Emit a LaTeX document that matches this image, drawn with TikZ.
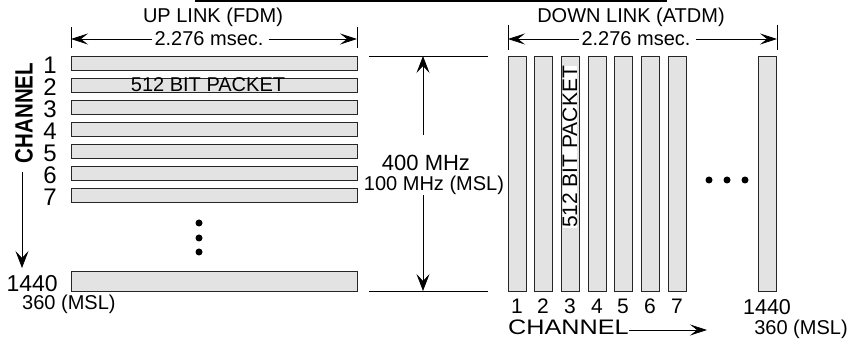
\documentclass[tikz,border=0pt]{standalone}
\usepackage{fontspec}
\setmainfont{Liberation Sans}
\usetikzlibrary{arrows.meta}
\newcommand{\fs}[1]{\fontsize{#1}{#1}\selectfont}
\begin{document}
\begin{tikzpicture}[x=1pt,y=-1pt,
  bar/.style={draw=black!85, line width=0.9pt, fill=black!11, inner sep=0pt},
  txt/.style={inner sep=0pt, font=\fs{20}},
  dim/.style={line width=0.7pt},
  arr/.style={line width=0.7pt, -{Stealth[length=17pt,width=11pt,inset=7pt]}},
  varr/.style={line width=0.7pt, -{Stealth[length=17pt,width=13pt,inset=7pt]}},
  dot/.style={circle, fill=black, inner sep=0pt, minimum size=7pt}]
\useasboundingbox (0,0) rectangle (852,347);
% top bar
\coordinate (tl) at (195,1); \coordinate (tr) at (667,1);
\draw[line width=2.5pt] (tl) -- (tr);
% titles
\node[txt] (up) at (213,17) {UP LINK (FDM)};
\node[txt] (down) at (631,17) {DOWN LINK (ATDM)};
% left dimension
\coordinate (lt1a) at (71,27); \coordinate (lt1b) at (71,48);
\coordinate (lt2a) at (357,27); \coordinate (lt2b) at (357,48);
\draw[dim] (lt1a) -- (lt1b); \draw[dim] (lt2a) -- (lt2b);
\node[txt] (ldim) at (209,39) {2.276 msec.};
\coordinate (la) at (71,39); \coordinate (lb) at (357,39);
\draw[arr] (ldim.west) ++(-2,0) -- (la);
\draw[arr] (ldim.east) ++(5,0) -- (lb);
% right dimension
\coordinate (rt1a) at (508,25); \coordinate (rt1b) at (508,50);
\coordinate (rt2a) at (777,25); \coordinate (rt2b) at (777,50);
\draw[dim] (rt1a) -- (rt1b); \draw[dim] (rt2a) -- (rt2b);
\node[txt] (rdim) at (636,39) {2.276 msec.};
\coordinate (ra) at (508,39); \coordinate (rb) at (777,39);
\draw[arr] (rdim.west) ++(-2,0) -- (ra);
\draw[arr] (rdim.east) ++(5,0) -- (rb);
% left bars
\foreach \i/\y in {1/56,2/78,3/100,4/122,5/144,6/166,7/188} {
  \node[bar, minimum width=286pt, minimum height=14pt] (u\i) at (214,\y+7) {};
  \node[inner sep=0pt, anchor=east, font=\fs{24}] (n\i) at (57,\y+9) {\i};
}
\node[bar, minimum width=286pt, minimum height=20pt] (u1440) at (214,281) {};
\node[inner sep=0pt, text depth=0pt, anchor=east, font=\fs{23}] (n1440) at (58,283) {1440};
\node[txt, anchor=west] (nmsl) at (22,304.5) {360 (MSL)};
\node[txt] (pk1) at (208,85) {512 BIT PACKET};
\node[dot] (d1) at (199,223) {};
\node[dot] (d2) at (199,238) {};
\node[dot] (d3) at (199,252) {};
% left vertical channel label
\node[inner sep=0pt, rotate=90, font=\fs{25}\bfseries] (chv) at (24,113) {\scalebox{0.82}[1]{CHANNEL}};
\coordinate (cha) at (22,172); \coordinate (chb) at (22,268);
\draw[varr] (cha) -- (chb);
% frequency dimension
\coordinate (fa) at (369,56); \coordinate (fb) at (488,56);
\coordinate (fc) at (369,291); \coordinate (fd) at (488,291);
\draw[dim] (fa) -- (fb); \draw[dim] (fc) -- (fd);
\node[inner sep=0pt, font=\fs{22}] (f400) at (426,163) {400 MHz};
\node[txt] (f100) at (434,185) {100 MHz (MSL)};
\coordinate (ft) at (423,56); \coordinate (fbot) at (423,291);
\coordinate (fs1) at (423,135); \coordinate (fs2) at (423,195);
\draw[varr] (fs1) -- (ft);
\draw[varr] (fs2) -- (fbot);
% right bars
\foreach \i/\x in {1/508,2/534,3/561,4/588,5/614,6/641,7/668} {
  \node[bar, minimum width=18pt, minimum height=235pt] (v\i) at (\x+9,173.5) {};
  \node[inner sep=0pt, text depth=0pt, font=\fs{21}] (m\i) at (\x+9,306.5) {\i};
}
\node[bar, minimum width=18pt, minimum height=235pt] (v1440) at (767,173.5) {};
\node[inner sep=0pt, text depth=0pt, font=\fs{21.5}] (m1440) at (767,306.5) {1440};
\node[txt] (rmsl) at (801,329) {360 (MSL)};
\node[inner sep=0pt, fill=white, rotate=90, font=\fs{21}] (pk2) at (570,147) {512 BIT PACKET};
\node[dot] (e1) at (709,180) {};
\node[dot] (e2) at (727,180) {};
\node[dot] (e3) at (745,180) {};
% bottom channel label
\node[inner sep=0pt, anchor=west, font=\fs{21}] (chh) at (508,327) {\scalebox{1.2}[1]{CHANNEL}};
\coordinate (chr) at (707,330);
\draw[arr] (chh.east |- chr) -- (chr);
\end{tikzpicture}
\end{document}
